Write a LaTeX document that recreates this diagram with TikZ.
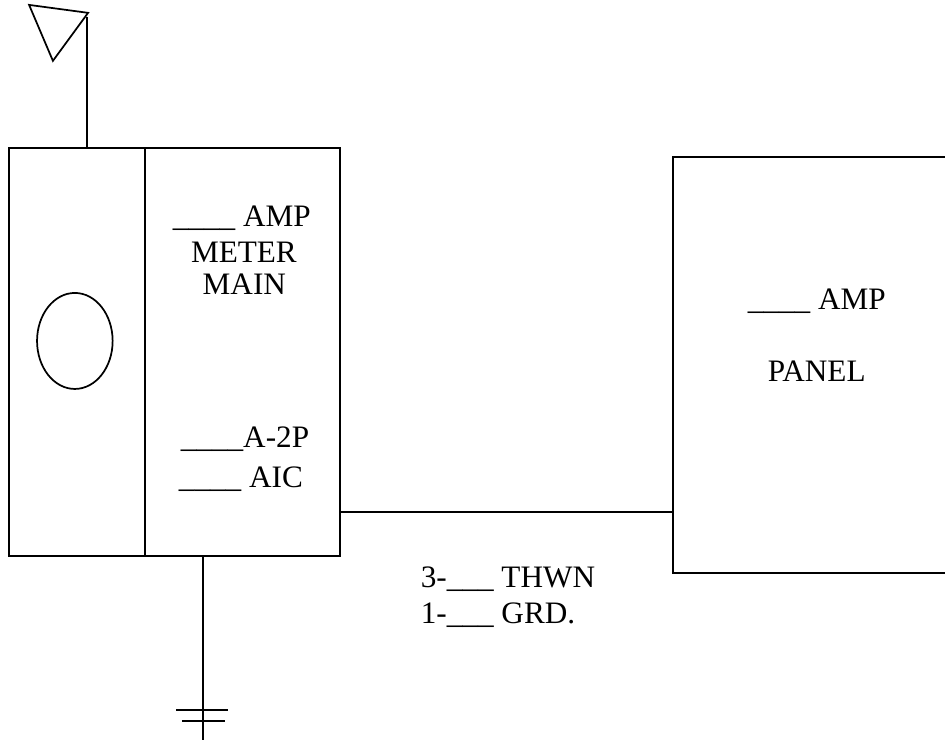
\documentclass[tikz,border=0pt]{standalone}
\usepackage{fontspec}
\setmainfont{Liberation Serif}
\usetikzlibrary{shapes.geometric}

\begin{document}
\begin{tikzpicture}[line width=1.3pt,
  box/.style={draw,rectangle,inner sep=0pt},
  lbl/.style={anchor=base west,inner sep=0pt,font=\fontsize{23.5}{27}\selectfont}]
\useasboundingbox (0,0) rectangle (25,19.6);
% antenna
\coordinate (tipA) at (0.77,19.47);
\coordinate (tipB) at (2.33,19.26);
\coordinate (tipC) at (1.40,17.99);
\coordinate (mast) at (2.30,19.16);
\draw (tipA) -- (tipB) -- (tipC) -- cycle;

% meter and main
\node[box,minimum width=3.6cm,minimum height=10.8cm] (meter) at (2.04,10.29) {};
\node[box,minimum width=5.16cm,minimum height=10.8cm] (main) at (6.42,10.29) {};
\node[draw,ellipse,minimum width=2cm,minimum height=2.54cm] (dial) at (1.98,10.58) {};
\draw (mast) -- (mast |- meter.north);

\node[lbl] (mainamp) at (4.55,13.60) {\_\_\_\_ AMP};
\node[lbl] (meterlbl) at (5.03,12.65) {METER};
\node[lbl] (mainlbl) at (5.34,11.80) {MAIN};
\node[lbl] (poles) at (4.76,7.76) {\_\_\_\_A-2P};
\node[lbl] (aic) at (4.71,6.70) {\_\_\_\_ AIC};

% ground
\coordinate (gnd) at (5.37,0.03);
\draw (gnd |- main.south) -- (gnd);
\draw (4.66,0.82) -- (6.03,0.82);
\draw (4.81,0.53) -- (5.95,0.53);

% panel
\node[box,minimum width=7.5cm,minimum height=11.01cm] (panel) at (21.55,9.945) {};
\node[lbl] (panelamp) at (19.76,11.40) {\_\_\_\_ AMP};
\node[lbl] (panellbl) at (20.29,9.50) {PANEL};

% feeder
\coordinate (feed) at (9.0,6.06);
\draw (main.east |- feed) -- (panel.west |- feed);
\node[lbl] (wires) at (11.11,4.06) {3-\_\_\_ THWN};
\node[lbl] (grd) at (11.11,3.10) {1-\_\_\_ GRD.};
\end{tikzpicture}
\end{document}
